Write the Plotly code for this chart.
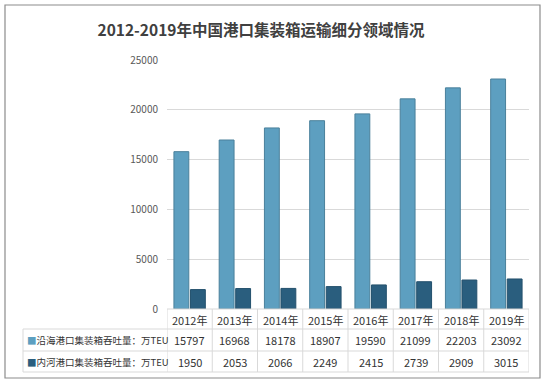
import plotly.graph_objects as go

years = ["2012年", "2013年", "2014年", "2015年", "2016年", "2017年", "2018年", "2019年"]
coastal = [15797, 16968, 18178, 18907, 19590, 21099, 22203, 23092]
inland = [1950, 2053, 2066, 2249, 2415, 2739, 2909, 3015]
series_names = ["沿海港口集装箱吞吐量：万TEU", "内河港口集装箱吞吐量：万TEU"]
title_text = "2012-2019年中国港口集装箱运输细分领域情况"

W, H = 546, 384
L, R, T, B = 167, 17, 60, 75
pw, ph = W - L - R, H - T - B

def px(x):
    return (x - L) / pw

def py(y):
    return (H - B - y) / ph

FONT = "Liberation Sans Narrow, Noto Sans CJK SC, sans-serif"
c1, c2 = "#5d9fc0", "#2a5e7e"

fig = go.Figure()
fig.add_trace(go.Bar(x=years, y=coastal, name=series_names[0],
                     marker=dict(color=c1, line=dict(color="#4a809b", width=1))))
fig.add_trace(go.Bar(x=years, y=inland, name=series_names[1],
                     marker=dict(color=c2, line=dict(color="#23506c", width=1))))

shapes = []
grid = "#d9d9d9"
# outer border
shapes.append(dict(type="rect", xref="paper", yref="paper", x0=px(5), x1=px(540), y0=py(378), y1=py(5),
                   line=dict(color="#8c8c8c", width=1.2), layer="above"))
# table horizontal lines
row_y = [309, 329, 351, 372]
for i, yy in enumerate(row_y):
    x0 = px(167) if i == 0 else px(23)
    shapes.append(dict(type="line", xref="paper", yref="paper", x0=x0, x1=1, y0=py(yy), y1=py(yy),
                       line=dict(color=grid, width=1)))
# vertical lines at category boundaries
for i in range(len(years) + 1):
    shapes.append(dict(type="line", xref="x", yref="paper", x0=i - 0.5, x1=i - 0.5,
                       y0=py(372), y1=py(309), line=dict(color=grid, width=1)))
shapes.append(dict(type="line", xref="paper", yref="paper", x0=px(23), x1=px(23),
                   y0=py(372), y1=py(329), line=dict(color=grid, width=1)))

ann = []
tc = "#333333"
for i, yr in enumerate(years):
    for txt, yy in [(yr, 319.5), (str(coastal[i]), 340), (str(inland[i]), 361.5)]:
        ann.append(dict(x=yr, y=py(yy), xref="x", yref="paper", text=txt, showarrow=False,
                        xanchor="center", yanchor="middle",
                        font=dict(size=11, color=tc, family=FONT)))
for name, col, yy in [(series_names[0], c1, 340), (series_names[1], c2, 361.5)]:
    ann.append(dict(x=px(25), y=py(yy), xref="paper", yref="paper", xanchor="left", yanchor="middle",
                    text=f"<span style='color:{col}'>■</span>{name}", showarrow=False,
                    font=dict(size=9.5, color=tc, family=FONT)))

fig.update_layout(
    width=W, height=H,
    margin=dict(l=L, r=R, t=T, b=B),
    paper_bgcolor="white", plot_bgcolor="white",
    title=dict(text=title_text, x=0.478, xanchor="center", y=1 - 31 / H, yanchor="middle",
               font=dict(size=15.5, color="#404040", family=FONT, weight="bold")),
    showlegend=False,
    barmode="group", bargap=0.27, bargroupgap=0.1,
    xaxis=dict(showticklabels=False, showgrid=False, range=[-0.5, 7.5], showline=False, zeroline=False),
    yaxis=dict(range=[0, 25000], dtick=5000, tickformat="d", showgrid=True, gridcolor=grid, gridwidth=1,
               zeroline=False, showline=False, ticks="", ticklabelstandoff=8,
               tickfont=dict(size=10, color="#595959", family=FONT)),
    shapes=shapes, annotations=ann,
)
fig.write_html("out.html", config={"displayModeBar": False},
               post_script="document.body.style.margin='0';document.body.style.overflow='hidden';")
